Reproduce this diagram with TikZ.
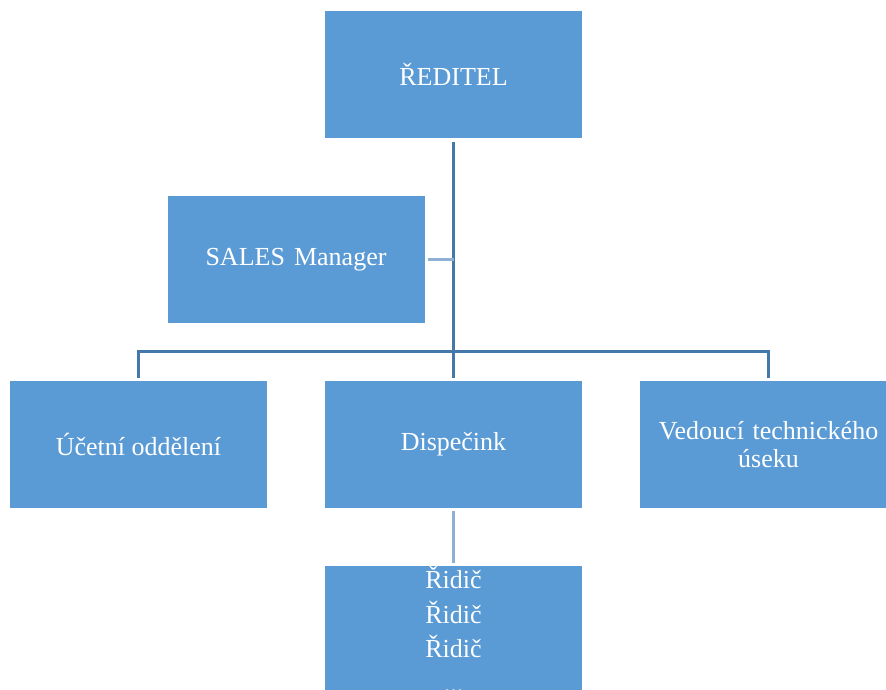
\documentclass[tikz,border=0pt]{standalone}
\usepackage{fontspec}
\setmainfont{Liberation Serif}
\definecolor{boxblue}{HTML}{5B9BD5}
\definecolor{conndark}{HTML}{4477AA}
\definecolor{connlight}{HTML}{8EB0D4}
\begin{document}
\begin{tikzpicture}[x=1pt,y=1pt,
  box/.style={fill=boxblue,draw=none,minimum width=257pt,minimum height=127pt,inner sep=0pt,
    text=white,align=center,font=\fontsize{26}{28}\selectfont},
  conn/.style={draw=conndark,line width=3pt},
  connl/.style={draw=connlight,line width=3pt}]
\useasboundingbox (0,0) rectangle (886,689);
\clip (0,0) rectangle (886,689);
\node[box] (dir) at (453.5,614.5) {ŘEDITEL};
\node[box] (sales) at (296,429.5) {SALES\hspace{0.35em}Manager};
\node[box] (ucet) at (138.5,244.5) {Účetní oddělení};
\node[box] (disp) at (453.5,244.5) {Dispečink};
\node[box,text width=250pt] (ved) at (768.5,244.5) {Vedoucí technického\\úseku};
\node[box] (ridic) at (453.5,59.5) {};
\node[text=white,anchor=north,align=center,inner sep=0pt,
  font=\fontsize{26}{34.5}\selectfont] (ridictext) at (453.5,123) {Řidič\\Řidič\\Řidič\\...};
% connectors
\coordinate (bar) at (453.5,337);
\draw[conn] ([yshift=-4pt]dir.south) -- ([yshift=3pt]disp.north);
\draw[conn] ([yshift=3pt]ucet.north) |- (bar) -| ([yshift=3pt]ved.north);
\draw[connl] ([xshift=3pt]sales.east) -- (sales.east -| dir.south);
\draw[connl] ([yshift=-3pt]disp.south) -- ([yshift=3pt]ridic.north);
\end{tikzpicture}
\end{document}
